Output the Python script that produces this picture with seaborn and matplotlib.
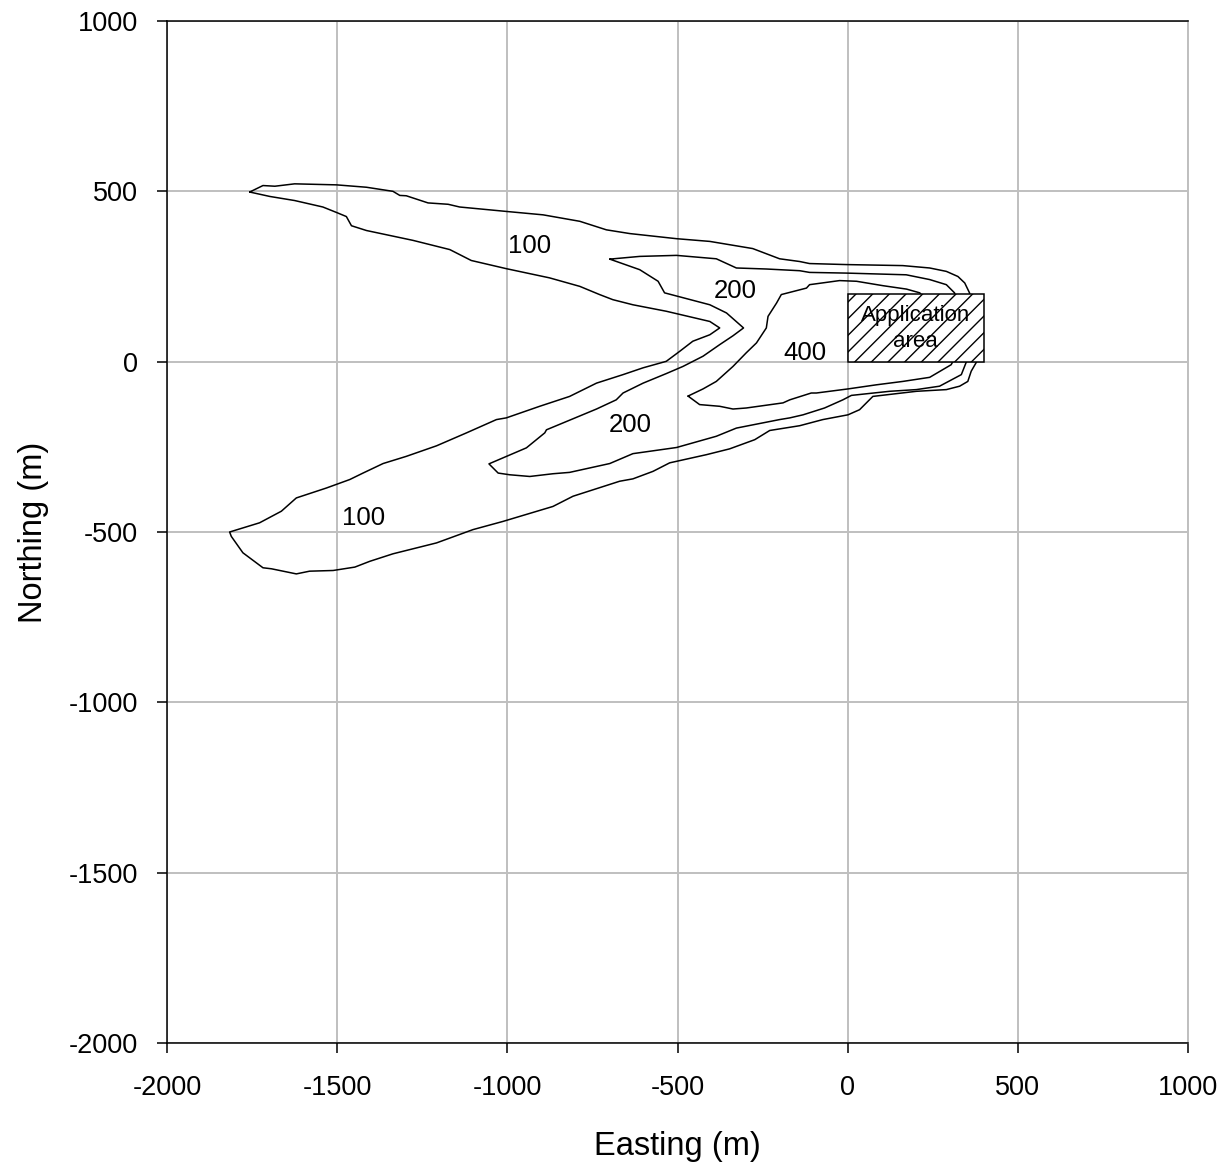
import matplotlib
matplotlib.use("Agg")
import matplotlib.pyplot as plt
from matplotlib.patches import Rectangle
import seaborn as sns
import pandas as pd

# ---- data (metres) ----
c100_e = [-1757, -1718, -1683, -1625, -1502, -1414, -1336, -1316, -1297, -1233, -1174, -1140,
          -1003, -895, -787, -709, -640, -503, -405, -279, -200, -141, -112, -4, 162, 241, 290,
          324, 344, 358, 380, 378, 363, 353, 329, 290, 202, 74, 35, 1, -73, -141, -229, -273,
          -347, -415, -523, -572, -631, -670, -807, -866, -1013, -1101, -1208, -1336, -1404,
          -1448, -1512, -1581, -1620, -1693, -1718, -1777, -1811, -1816,
          -1728, -1664, -1620, -1532, -1463, -1424, -1365, -1297, -1208, -1120, -1032, -1003,
          -905, -817, -738, -660, -601, -533, -494, -455, -405, -376,
          -405, -533, -631, -690, -729, -787, -876, -1003, -1106, -1169, -1277, -1414, -1458,
          -1473, -1502, -1542, -1625, -1698, -1757]
c100_n = [498, 517, 515, 522, 519, 512, 500, 488, 487, 466, 462, 454,
          441, 431, 412, 387, 376, 361, 353, 332, 302, 294, 288, 285, 282, 275, 265,
          250, 231, 202, 100, -2, -28, -58, -72, -82, -87, -102, -141, -156, -170, -188, -202, -229,
          -256, -273, -297, -322, -344, -351, -395, -425, -469, -493, -532, -564, -586,
          -603, -613, -615, -623, -608, -605, -561, -513, -500,
          -473, -439, -400, -371, -346, -327, -299, -278, -247, -209, -170, -165,
          -131, -102, -63, -38, -18, 1, 30, 60, 79, 99,
          118, 148, 167, 182, 197, 221, 246, 273, 297, 329, 356, 385, 399,
          426, 438, 454, 473, 485, 498]

c200_e = [-699, -611, -503, -386, -327, -239, -141, -112, -4, 172, 241, 290, 314, 340, 349,
          334, 270, 202, 123, 11, -14, -68, -131, -170, -200, -327, -386, -503, -631, -699,
          -817, -866, -934, -993, -1027, -1054,
          -944, -890, -885, -738, -680, -660, -601, -533, -484, -425, -376, -337, -306,
          -356, -405, -538, -557, -611, -699]
c200_n = [301, 309, 312, 302, 275, 272, 267, 262, 260, 255, 241, 226, 202, 100, 0,
          -38, -72, -82, -87, -99, -112, -136, -156, -165, -170, -195, -219, -252, -270, -299,
          -325, -329, -337, -332, -327, -300,
          -253, -209, -200, -139, -112, -92, -63, -35, -14, 16, 50, 76, 99,
          143, 167, 202, 236, 270, 301]

c400_e = [-469, -425, -386, -337, -298, -268, -239, -234, -209, -195, -121, -112, -53, -24,
          26, 104, 173, 212, 280, 309, 304, 241, 162, 84, 1, -92, -107, -170, -190, -298,
          -337, -376, -435, -469]
c400_n = [-101, -80, -58, -14, 26, 55, 99, 133, 172, 197, 216, 226, 234, 238,
          236, 223, 213, 202, 100, 0, -9, -46, -58, -68, -80, -92, -92, -112, -121, -136,
          -139, -131, -126, -101]

label_text = ["100", "200", "400", "200", "100"]
label_e = [-935, -330, -125, -640, -1422]
label_n = [340, 208, 25, -185, -458]

area_e = [0, 400]
area_n = [0, 200]
area_text = "Application\narea"

ticks = [-2000, -1500, -1000, -500, 0, 500, 1000]

# ---- plot ----
sns.set_theme(style="white")
plt.rcParams["font.family"] = ["Liberation Sans", "DejaVu Sans"]
plt.rcParams["text.color"] = "black"
plt.rcParams["axes.labelcolor"] = "black"

fig = plt.figure(figsize=(12.28, 11.67), dpi=100)
ax = fig.add_axes([167 / 1228, 1 - 1043 / 1167, 1021 / 1228, 1022 / 1167])

frames = []
for name, e, n in [("c100", c100_e, c100_n), ("c200", c200_e, c200_n), ("c400", c400_e, c400_n)]:
    frames.append(pd.DataFrame({"easting": e, "northing": n, "contour": name}))
df = pd.concat(frames, ignore_index=True)

for name, sub in df.groupby("contour"):
    sns.lineplot(data=sub, x="easting", y="northing", sort=False, estimator=None,
                 color="black", linewidth=1.1, ax=ax, zorder=3)

rect = Rectangle((area_e[0], area_n[0]), area_e[1] - area_e[0], area_n[1] - area_n[0],
                 facecolor="white", edgecolor="black", hatch="//", linewidth=1.1, zorder=4)
ax.add_patch(rect)
ax.text((area_e[0] + area_e[1]) / 2, (area_n[0] + area_n[1]) / 2 - 3, area_text,
        ha="center", va="center", fontsize=16, linespacing=1.35, color="black", zorder=5)

for t, x, y in zip(label_text, label_e, label_n):
    ax.text(x, y, t, ha="center", va="center", fontsize=18.5, color="black", zorder=5)

ax.set_xlim(-2000, 1000)
ax.set_ylim(-2000, 1000)
ax.set_xticks(ticks)
ax.set_yticks(ticks)
ax.set_xticklabels([str(t) for t in ticks])
ax.set_yticklabels([str(t) for t in ticks])
ax.grid(True, color="#bfbfbf", linewidth=1.4)
ax.set_axisbelow(True)

for side in ["left", "bottom", "top"]:
    ax.spines[side].set_color("black")
    ax.spines[side].set_linewidth(1.1)
ax.spines["right"].set_color("#bfbfbf")
ax.spines["right"].set_linewidth(1.4)

ax.tick_params(axis="both", direction="out", length=7, width=1.1, color="black",
               labelsize=19.5, labelcolor="black")
ax.tick_params(axis="x", bottom=True, top=False, pad=16)
ax.tick_params(axis="y", left=True, right=False, pad=14)

ax.set_xlabel("Easting (m)", fontsize=23.5, labelpad=22, color="black")
ax.set_ylabel("Northing (m)", fontsize=23.5, labelpad=14, color="black")

fig.savefig("out.png", dpi=100, facecolor="white")
